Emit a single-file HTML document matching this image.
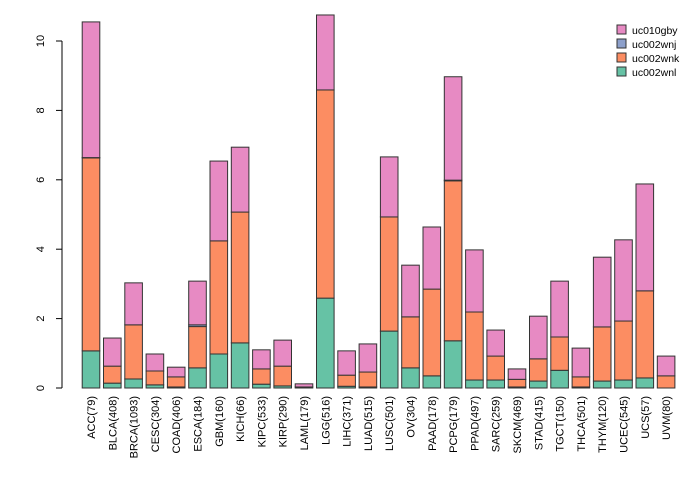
<!DOCTYPE html>
<html><head><meta charset="utf-8"><style>body{margin:0;background:#fff}svg{display:block;font-family:"Liberation Sans",sans-serif}</style></head>
<body>
<svg id="c" width="700" height="480"></svg>
<script>
const categories=["ACC(79)","BLCA(408)","BRCA(1093)","CESC(304)","COAD(406)","ESCA(184)","GBM(160)","KICH(66)","KIPC(533)","KIRP(290)","LAML(179)","LGG(516)","LIHC(371)","LUAD(515)","LUSC(501)","OV(304)","PAAD(178)","PCPG(179)","PPAD(497)","SARC(259)","SKCM(469)","STAD(415)","TGCT(150)","THCA(501)","THYM(120)","UCEC(545)","UCS(57)","UVM(80)"];
const uc002wnl=[1.07,0.14,0.26,0.09,0.03,0.58,0.98,1.30,0.11,0.06,0.0,2.59,0.05,0.03,1.64,0.58,0.35,1.36,0.23,0.23,0.03,0.2,0.51,0.03,0.2,0.23,0.29,0.0];
const uc002wnk=[5.56,0.49,1.56,0.40,0.29,1.19,3.26,3.77,0.44,0.57,0.03,6.0,0.32,0.43,3.29,1.47,2.5,4.61,1.96,0.69,0.22,0.64,0.96,0.29,1.56,1.7,2.51,0.35];
const uc002wnj=[0.01,0,0,0,0,0.05,0,0,0,0,0,0,0,0,0,0,0,0.02,0,0,0,0,0,0,0,0,0,0];
const uc010gby=[3.91,0.81,1.21,0.49,0.28,1.26,2.3,1.87,0.55,0.75,0.09,2.16,0.70,0.81,1.73,1.49,1.79,2.98,1.79,0.75,0.30,1.23,1.61,0.83,2.01,2.34,3.08,0.57];
const yTicks=[0,2,4,6,8,10];
const series=[["uc002wnl",uc002wnl,"#66c2a5"],["uc002wnk",uc002wnk,"#fc8d62"],["uc002wnj",uc002wnj,"#8da0cb"],["uc010gby",uc010gby,"#e78ac3"]];
const NS="http://www.w3.org/2000/svg",svg=document.getElementById("c");
const y=v=>388-v*34.7, xc=i=>91+i*21.3;
function mk(t,a,p){const e=document.createElementNS(NS,t);for(const k in a)e.setAttribute(k,a[k]);(p||svg).appendChild(e);return e;}
const ax=mk("line",{x1:62,x2:62,y1:y(0),y2:y(10),stroke:"#000"});


yTicks.forEach(t=>{
  const l=mk("line",{x1:56,x2:62,y1:y(t),y2:y(t),stroke:"#000"});
  
  
  const tx=mk("text",{x:0,y:0,"font-size":11,"text-anchor":"middle",transform:`translate(44,${y(t)}) rotate(-90)`});
  tx.textContent=t;
  
  
});
categories.forEach((c,i)=>{
  let base=0;
  series.forEach(([n,arr,col])=>{
    const v=arr[i];
    const r=mk("rect",{x:xc(i)-8.8,width:17.6,y:y(base+v),height:v*34.7,fill:col,stroke:"#333","stroke-width":1});
    
    
    base+=v;
  });
  const t=mk("text",{x:0,y:0,"font-size":11,"text-anchor":"end",transform:`translate(${xc(i)+4},396) rotate(-90)`});
  t.textContent=c;
  
  
});
const legend=[series[3],series[2],series[1],series[0]];
legend.forEach(([n,a,col],k)=>{
  const yy=25+k*14;
  const r=mk("rect",{x:617,y:yy,width:9,height:9,fill:col,stroke:"#333"});
  
  
  const t=mk("text",{x:632,y:yy+9,"font-size":10.5});
  t.textContent=n;
  
  
});
</script>
</body></html>
